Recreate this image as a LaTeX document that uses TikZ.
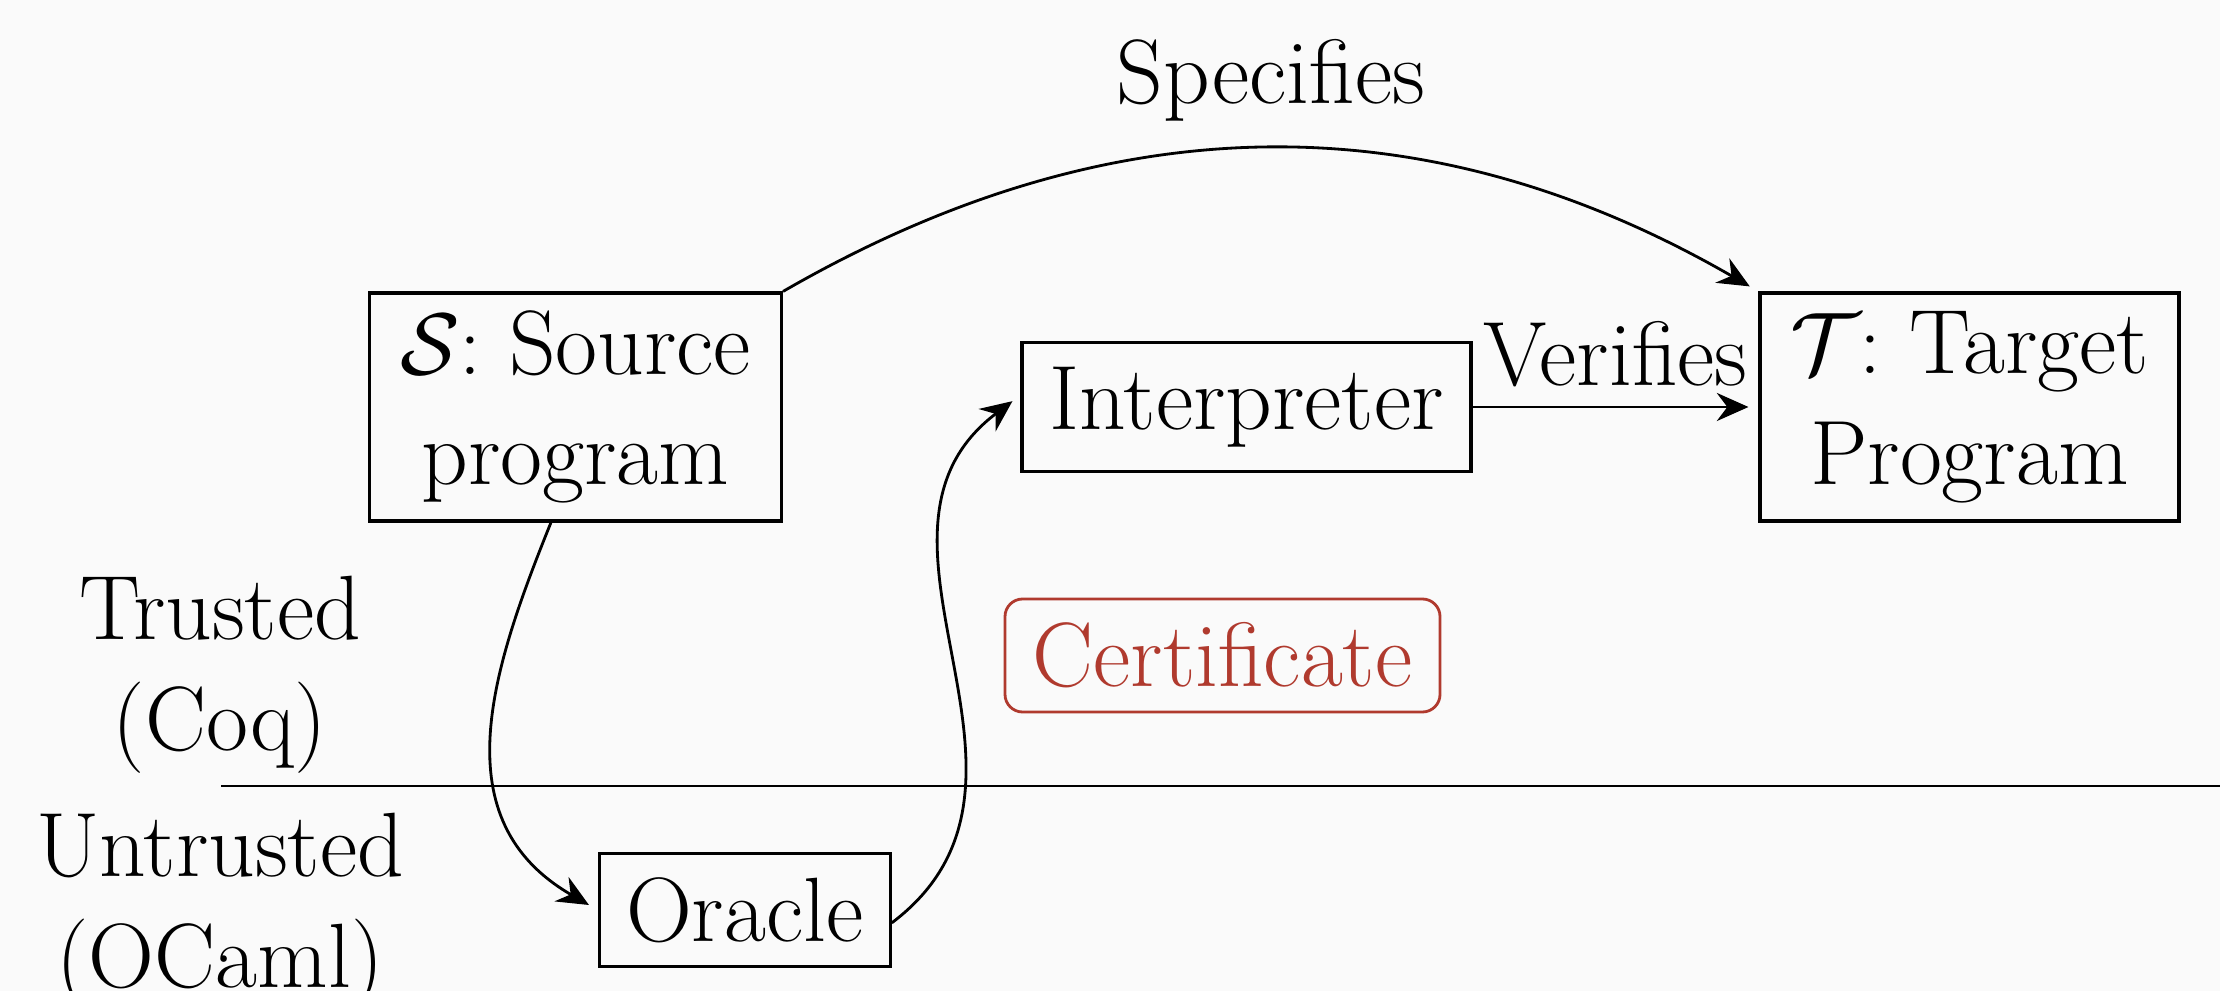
\documentclass[tikz,border=0pt]{standalone}
\usetikzlibrary{arrows.meta}
\definecolor{bgcol}{RGB}{250,250,250}
\definecolor{certred}{RGB}{176,58,46}
\begin{document}
\begin{tikzpicture}[font=\fontsize{26}{31.5}\selectfont, >={Stealth[length=9pt,width=8pt,inset=3pt]},
    box/.style={draw, line width=0.9pt, align=center, inner sep=0pt},
    conn/.style={->, thick, shorten >=0.1cm}]
        \fill[bgcol] (0,0) rectangle (22.2,-9.91);
        \useasboundingbox (0,0) rectangle (22.2,-9.91);
        \node[box, minimum width=4.12cm, minimum height=2.28cm] (src) at (5.755,-4.07) {$\mathcal{S}\colon$ Source\\program};
        \node[box, minimum width=4.49cm, minimum height=1.29cm] (interp) at (12.465,-4.07) {Interpreter};
        \node[box, minimum width=4.19cm, minimum height=2.28cm] (tgt) at (19.695,-4.07) {$\mathcal{T}\colon$ Target\\Program};
        \node[box, minimum width=2.91cm, minimum height=1.13cm] (oracle) at (7.447,-9.10) {Oracle};
        \node[box, draw=certred, text=certred, thick, rounded corners=5pt, minimum width=4.35cm, minimum height=1.13cm] (cert) at (12.225,-6.555) {Certificate};
        \node[align=center] (trusted) at (2.2,-6.75) {Trusted\\(Coq)};
        \node[align=center] (untrusted) at (2.2,-9.12) {Untrusted\\(OCaml)};
        \draw[thick] (2.21,-7.86) -- (22.2,-7.86);
        \draw[conn] (src.north east) to[bend left=30] node[above=4pt] (spec) {Specifies} (tgt.north west);
        \draw[conn] (interp.east) -- node[above=2pt] (verif) {Verifies} (tgt.west);
        \draw[conn] (src.-102) to[out=-112, in=150, out distance=1.6cm, in distance=1.8cm] (oracle.west);
        \draw[conn] (oracle.-5) to[out=37, in=-143, distance=2.34cm] (interp.177);
\end{tikzpicture}
\end{document}
